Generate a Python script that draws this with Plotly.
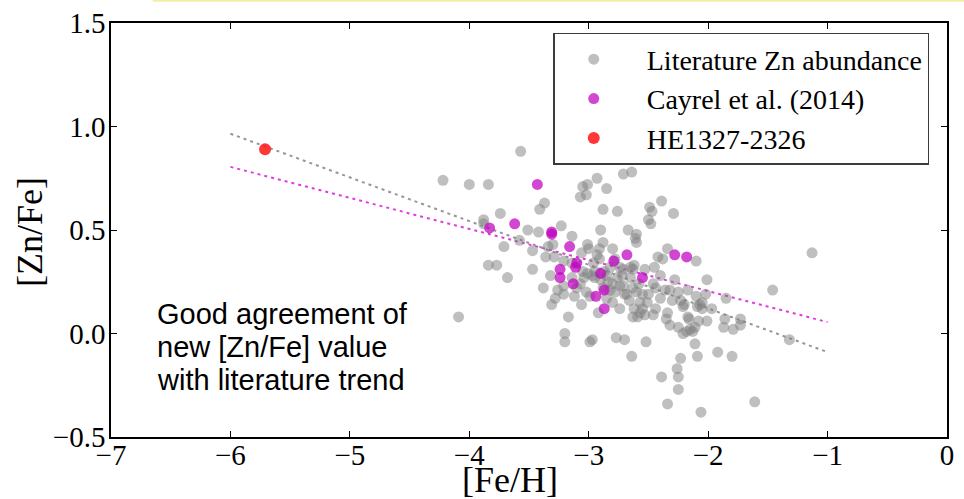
import plotly.graph_objects as go

# ---- data ----
lit_fe = [-4.09, -4.22, -4.00, -3.84, -3.57, -3.05, -3.01, -3.07, -3.02, -2.93, -2.85, -2.71, -2.64,
          -3.37, -3.41, -3.74, -3.88, -3.88, -3.51, -3.42, -3.23, -3.14, -2.90, -2.88, -2.76, -2.67,
          -2.60, -2.61, -2.60, -2.49, -2.47, -2.39, -2.29, -2.50, -2.48, -3.71, -3.58, -3.47, -3.34,
          -3.30, -3.36, -3.29, -3.01, -3.00, -3.06, -2.88, -2.91, -2.80, -2.78, -2.91, -2.93, -2.65,
          -2.63, -2.71, -2.53, -2.42, -2.38, -2.34, -2.10, -2.01, -3.84, -3.77, -3.68, -3.47, -3.32,
          -3.21, -3.14, -3.38, -3.28, -3.31, -3.21, -3.21, -3.17, -3.06, -3.02, -3.07, -3.14, -3.01,
          -2.92, -2.85, -2.80, -2.74, -2.82, -2.74, -2.65, -2.63, -2.66, -2.60, -2.57, -2.57, -2.63,
          -2.50, -2.44, -2.40, -2.36, -2.30, -2.25, -2.17, -2.10, -2.34, -2.32, -2.25, -2.17, -2.15,
          -2.13, -2.08, -2.05, -2.05, -1.97, -2.01, -1.86, -1.87, -1.79, -1.73, -1.73, -1.85, -1.46,
          -1.32, -3.20, -3.20, -2.99, -2.77, -2.70, -2.52, -2.64, -2.11, -2.09, -1.92, -1.80, -2.23,
          -2.26, -2.25, -2.39, -2.25, -2.34, -2.06, -1.61, -2.46, -2.51, -2.59, -1.13, -2.21, -2.07,
          -2.16, -2.21, -2.11, -2.97, -2.82, -2.74, -2.45, -2.80, -2.71, -2.78, -2.46, -2.32, -2.23,
          -2.09, -2.35, -2.18, -2.97, -2.95, -2.90, -2.88, -2.62, -2.55, -2.70, -3.05, -2.85, -2.99,
          -2.95, -2.87, -2.76, -2.72, -2.55, -2.53, -3.04, -3.10, -2.68, -2.58, -2.44, -2.28,
          -3.12, -2.96, -2.84, -2.62, -2.40, -2.20, -2.02, -3.26]
lit_zn = [0.08, 0.74, 0.72, 0.72, 0.88, 0.71, 0.72, 0.66, 0.67, 0.75, 0.70, 0.77, 0.78,
          0.63, 0.60, 0.58, 0.55, 0.53, 0.50, 0.49, 0.52, 0.47, 0.50, 0.60, 0.59, 0.50,
          0.48, 0.46, 0.44, 0.61, 0.59, 0.64, 0.58, 0.55, 0.53, 0.42, 0.45, 0.40, 0.42,
          0.43, 0.37, 0.37, 0.43, 0.41, 0.39, 0.44, 0.41, 0.41, 0.36, 0.36, 0.38, 0.32,
          0.31, 0.31, 0.31, 0.37, 0.36, 0.41, 0.35, 0.26, 0.33, 0.33, 0.27, 0.31, 0.28,
          0.35, 0.34, 0.22, 0.17, 0.14, 0.19, 0.23, 0.08, 0.14, 0.20, 0.24, 0.27, 0.29,
          0.10, 0.17, 0.15, 0.12, 0.21, 0.23, 0.27, 0.22, 0.16, 0.20, 0.15, 0.10, 0.08,
          0.19, 0.12, 0.17, 0.21, 0.16, 0.20, 0.21, 0.18, 0.10, 0.04, 0.03, 0.08, 0.02,
          0.01, 0.06, 0.12, 0.15, 0.12, 0.06, 0.07, 0.03, 0.02, 0.07, 0.04, 0.17, 0.21,
          -0.03, 0.00, -0.04, -0.04, -0.02, -0.03, -0.04, -0.11, -0.05, -0.11, -0.09, -0.11, -0.12,
          -0.17, -0.21, -0.21, -0.27, -0.34, -0.38, -0.33, 0.09, 0.15, 0.08, 0.39, 0.13, 0.14,
          0.07, 0.00, 0.03, 0.28, 0.32, 0.32, 0.32, 0.24, 0.23, 0.20, 0.24, 0.21, 0.16,
          0.13, 0.07, 0.01, -0.03, 0.30, 0.26, 0.22, 0.12, 0.19, 0.19, 0.30, 0.28, 0.18,
          0.27, 0.30, 0.27, 0.28, 0.12, 0.09, 0.27, 0.22, 0.19, 0.24, 0.22, 0.26,
          0.18, 0.34, 0.25, 0.33, 0.28, 0.14, 0.19, 0.21]

cay_fe = [-3.43, -3.62, -3.83, -3.31, -3.31, -3.16, -3.10, -3.24, -3.24, -3.11, -3.13, -2.90,
          -2.94, -2.87, -2.87, -2.79, -2.68, -2.55, -2.28, -2.18]
cay_zn = [0.72, 0.53, 0.51, 0.49, 0.48, 0.42, 0.34, 0.31, 0.27, 0.32, 0.24, 0.29,
          0.18, 0.21, 0.12, 0.35, 0.38, 0.27, 0.38, 0.37]

he_fe = [-5.71]
he_zn = [0.89]

fit_fe = [-6.0, -1.0]
lit_fit_zn = [0.965, -0.09]
cay_fit_zn = [0.805, 0.055]

legend_names = ["Literature Zn abundance", "Cayrel et al. (2014)", "HE1327-2326"]
note_lines = ["Good agreement of", "new [Zn/Fe] value", "with literature trend"]
x_ticks = [-7, -6, -5, -4, -3, -2, -1, 0]
y_ticks = [-0.5, 0.0, 0.5, 1.0, 1.5]
x_title = "[Fe/H]"
y_title = "[Zn/Fe]"

SERIF = "Liberation Serif"
PAD = "&nbsp;&nbsp;"

fig = go.Figure()
fig.add_trace(go.Scatter(x=fit_fe, y=lit_fit_zn, mode="lines", showlegend=False,
                         line=dict(color="rgb(150,150,150)", width=2, dash="3px,4px")))
fig.add_trace(go.Scatter(x=fit_fe, y=cay_fit_zn, mode="lines", showlegend=False,
                         line=dict(color="rgb(225,60,225)", width=2, dash="3px,4px")))
fig.add_trace(go.Scatter(x=lit_fe, y=lit_zn, mode="markers", name=PAD + legend_names[0],
                         legendgroup="a",
                         marker=dict(color="rgba(128,128,128,0.5)", size=11, line=dict(width=0))))
fig.add_trace(go.Scatter(x=cay_fe, y=cay_zn, mode="markers", name=PAD + legend_names[1],
                         legendgroup="b",
                         marker=dict(color="rgba(191,0,191,0.72)", size=11, line=dict(width=0))))
fig.add_trace(go.Scatter(x=he_fe, y=he_zn, mode="markers", name=PAD + legend_names[2],
                         legendgroup="c",
                         marker=dict(color="rgba(255,20,20,0.85)", size=12, line=dict(width=0))))

for i, t in enumerate(note_lines):
    fig.add_annotation(xref="paper", yref="paper", x=0.053, y=0.340 - i * 0.08,
                       xanchor="left", yanchor="top", text=t, showarrow=False,
                       font=dict(family="Liberation Sans", size=29, color="black"))

fig.add_annotation(xref="paper", yref="paper", x=0.477, y=-0.104, xanchor="center",
                   yanchor="middle", text=x_title, showarrow=False,
                   font=dict(family=SERIF, size=36, color="black"))
fig.add_annotation(xref="paper", yref="paper", x=-0.097, y=0.495, xanchor="center",
                   yanchor="middle", text=y_title, showarrow=False, textangle=-90,
                   font=dict(family=SERIF, size=36, color="black"))

fig.add_shape(type="line", xref="paper", yref="paper", x0=0.05, x1=1.03, y0=1.054, y1=1.054,
              line=dict(color="rgb(245,236,170)", width=2))

axis_common = dict(showline=True, linecolor="black", linewidth=1.5, mirror="ticks",
                   ticks="inside", ticklen=6, tickwidth=1.2, tickcolor="black",
                   showgrid=False, zeroline=False, automargin=False,
                   tickfont=dict(family=SERIF, size=29, color="black"))

fig.update_xaxes(range=[-7, 0], tickvals=x_ticks, ticklabelstandoff=-9, **axis_common)
fig.update_yaxes(range=[-0.5, 1.5], tickvals=y_ticks, tickformat=".1f",
                 ticklabelstandoff=-2, **axis_common)

fig.update_layout(
    width=964, height=499,
    margin=dict(l=111, r=17, t=23, b=62),
    paper_bgcolor="white", plot_bgcolor="white",
    legend=dict(x=0.529, y=0.976, xanchor="left", yanchor="top",
                bordercolor="rgb(60,60,60)", borderwidth=1.5, bgcolor="white",
                font=dict(family=SERIF, size=28, color="black"),
                tracegroupgap=0, itemwidth=68),
)

fig.write_html("out.html")
